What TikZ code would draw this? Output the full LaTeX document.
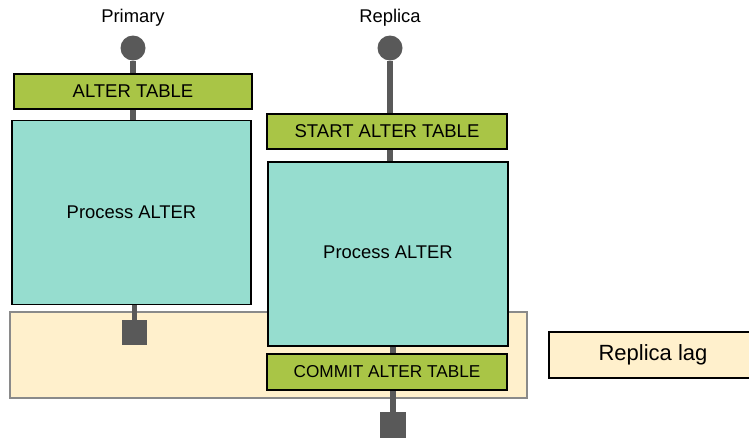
\documentclass[tikz,border=0pt]{standalone}
\usepackage{fontspec}
\setmainfont{Liberation Sans}
\definecolor{stepgreen}{HTML}{A9C546}
\definecolor{proc}{HTML}{96DDCF}
\definecolor{lagbg}{HTML}{FFF0CC}
\definecolor{wire}{HTML}{595959}
\definecolor{lagedge}{HTML}{8A8A8A}
\begin{document}
\begin{tikzpicture}[x=1pt,y=-1pt,
  stepbox/.style={draw=black,line width=2pt,fill=stepgreen,inner sep=0pt,
    font=\fontsize{18.5}{21}\selectfont},
  procbox/.style={draw=black,line width=1.6pt,fill=proc,inner sep=0pt,
    font=\fontsize{18.4}{21}\selectfont},
  wireline/.style={wire,line width=5.5pt},
  endpoint/.style={circle,fill=wire,inner sep=0pt,minimum size=25pt},
  sink/.style={rectangle,fill=wire,inner sep=0pt,minimum size=25.5pt},
  heading/.style={font=\fontsize{18.4}{21}\selectfont,inner sep=0pt}]
\useasboundingbox (0,0) rectangle (749,437);

% lag band behind both timelines
\node[draw=lagedge,line width=1.2pt,fill=lagbg,minimum width=517pt,minimum height=86pt,inner sep=0pt]
  (band) at (268.5,355) {};

% legend
\node[draw=black,line width=1.6pt,fill=lagbg,minimum width=208pt,minimum height=46pt,inner sep=0pt,
  font=\fontsize{22}{26}\selectfont] (legend) at (653,355) {Replica lag};

% primary timeline
\node[heading] (ptitle) at (133,18) {Primary};
\node[endpoint] (pstart) at (133,48) {};
\node[stepbox,minimum width=238pt,minimum height=35pt] (palter) at (133,91.5) {ALTER TABLE};
\node[procbox,minimum width=239pt,minimum height=184pt] (pproc) at (131.5,212.5) {};
\node[procbox,fill=none,draw=none] (ptext) at (131.5,212.5) {Process ALTER};
\node[sink] (pend) at (134.5,332.5) {};

% replica timeline
\node[heading] (rtitle) at (390,18) {Replica};
\node[endpoint] (rstart) at (390,48) {};
\node[stepbox,minimum width=240pt,minimum height=35pt] (rstartalter) at (387,131.5) {START ALTER TABLE};
\node[procbox,minimum width=240pt,minimum height=184pt] (rproc) at (388,254) {};
\node[procbox,fill=none,draw=none] (rtext) at (388,252) {Process ALTER};
\node[stepbox,minimum width=240pt,minimum height=36pt,font=\fontsize{17.2}{20}\selectfont]
  (rcommit) at (387,372) {COMMIT ALTER TABLE};
\node[sink,minimum width=26pt,minimum height=27pt] (rend) at (393,425.5) {};

% connectors
\draw[wireline] (pstart) -- (pstart |- palter.north);
\draw[wireline] (pstart |- palter.south) -- (pstart |- pproc.north);
\draw[wireline] (pend.north) -- (pend |- pproc.south);
\draw[wireline] (rstart) -- (rstart |- rstartalter.north);
\draw[wireline] (rstart |- rstartalter.south) -- (rstart |- rproc.north);
\draw[wireline] (rend |- rproc.south) -- (rend |- rcommit.north);
\draw[wireline] (rend.north) -- (rend |- rcommit.south);
\end{tikzpicture}
\end{document}
